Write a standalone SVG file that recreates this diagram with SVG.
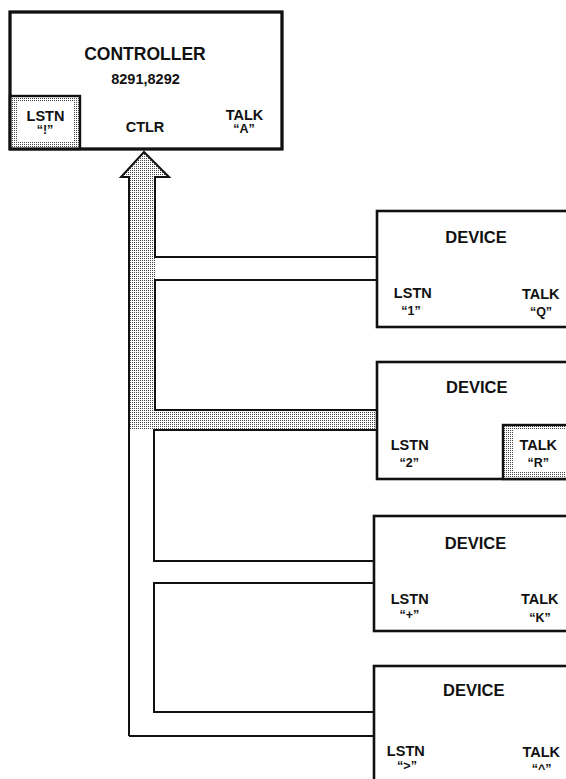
<svg xmlns="http://www.w3.org/2000/svg" width="566" height="779" viewBox="0 0 566 779">
<style>
.box{fill:#fff;stroke:#111;stroke-width:2.6}
.ring{fill:url(#dots);stroke:#111;stroke-width:2.4}
.inner{fill:#fff;stroke:none}
.bus{fill:none;stroke:#111;stroke-width:2;stroke-linejoin:miter}
.t{font-family:"Liberation Sans",Arial,sans-serif;font-weight:bold;fill:#111;text-anchor:middle}
.big{font-size:17.5px}
.dev{font-size:16.5px}
.mid{font-size:14.5px}
.q{font-size:12.5px}
</style>
<defs>
<pattern id="dots" width="2" height="2" patternUnits="userSpaceOnUse">
<rect width="2" height="2" fill="#fff"/>
<rect width="1" height="1" fill="#444"/>
</pattern>
</defs>
<g id="connectors">
<path d="M121,177 L144,152 L169,177 L155,177 L155,410 L376,410 L376,430 L129,430 L129,177 Z" fill="url(#dots)" stroke="none"/>
<path class="bus" d="M129,736 L129,177 L121,177 L144,152 L169,177 L155,177 L155,257 L376,257"/>
<path class="bus" d="M376,280 L155,280 L155,410 L376,410"/>
<path class="bus" d="M376,430 L154,430 L154,561 L376,561"/>
<path class="bus" d="M376,583 L154,583 L154,712 L376,712"/>
<path class="bus" d="M376,736 L129,736"/>
</g>
<g id="controller">
<rect class="box" x="10" y="12" width="272" height="137" stroke-width="3"/>
<rect class="ring" x="10" y="96" width="70" height="53"/>
<rect class="inner" x="18" y="102" width="56" height="40"/>
<rect x="10" y="12" width="272" height="137" fill="none" stroke="#111" stroke-width="3"/>
<text class="t big" x="145" y="59.5">CONTROLLER</text>
<text class="t mid" x="145.5" y="84">8291,8292</text>
<text class="t mid" x="45.5" y="121">LSTN</text>
<text class="t q" x="45" y="134">“!”</text>
<text class="t mid" x="145" y="132">CTLR</text>
<text class="t mid" x="244.5" y="120">TALK</text>
<text class="t q" x="244" y="133">“A”</text>
</g>
<g id="device1">
<rect class="box" x="377" y="211" width="200" height="116"/>
<text class="t dev" x="476" y="243.3">DEVICE</text>
<text class="t mid" x="412.8" y="298">LSTN</text>
<text class="t q" x="411" y="315">“1”</text>
<text class="t mid" x="540.8" y="298.5">TALK</text>
<text class="t q" x="541" y="315.5">“Q”</text>
</g>
<g id="device2">
<rect class="box" x="377" y="362" width="200" height="117"/>
<rect class="ring" x="503" y="425" width="77" height="54"/>
<rect class="inner" x="513" y="430" width="67" height="42"/>
<text class="t dev" x="476.7" y="393">DEVICE</text>
<text class="t mid" x="409.7" y="450">LSTN</text>
<text class="t q" x="409.3" y="467">“2”</text>
<text class="t mid" x="538.3" y="450">TALK</text>
<text class="t q" x="538.3" y="467">“R”</text>
</g>
<g id="device3">
<rect class="box" x="374" y="516" width="203" height="115"/>
<text class="t dev" x="475.5" y="549">DEVICE</text>
<text class="t mid" x="409.7" y="604">LSTN</text>
<text class="t q" x="409.3" y="619">“+”</text>
<text class="t mid" x="539.7" y="604">TALK</text>
<text class="t q" x="540" y="621.5">“K”</text>
</g>
<g id="device4">
<rect class="box" x="374" y="666" width="203" height="130"/>
<text class="t dev" x="473.8" y="696">DEVICE</text>
<text class="t mid" x="405.8" y="756">LSTN</text>
<text class="t q" x="407" y="770">“&gt;”</text>
<text class="t mid" x="541.3" y="756.5">TALK</text>
<text class="t q" x="541.7" y="773">“^”</text>
</g>
</svg>
